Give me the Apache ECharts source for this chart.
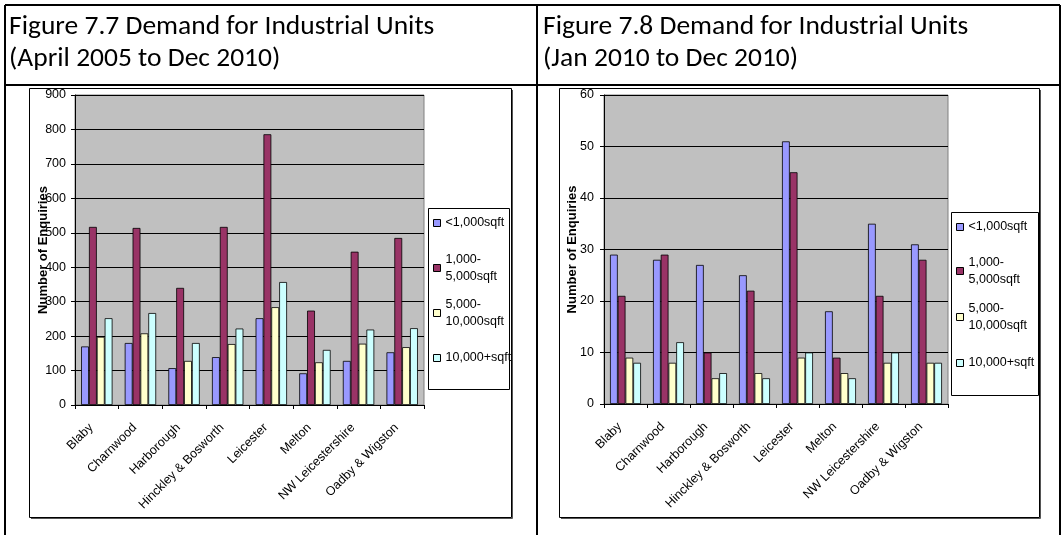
<!DOCTYPE html>
<html>
<head>
<meta charset="utf-8">
<script src="https://cdn.jsdelivr.net/npm/echarts@6/dist/echarts.min.js"></script>
<style>
  html, body { margin: 0; padding: 0; background: #ffffff; }
  #chart { width: 1062px; height: 535px; }
</style>
</head>
<body>
<div id="chart"></div>
<script>
// Districts on the category axis
const districts = ['Blaby', 'Charnwood', 'Harborough', 'Hinckley & Bosworth',
  'Leicester', 'Melton', 'NW Leicestershire', 'Oadby & Wigston'];

// Unit size bands (legend entries)
const sizeBands = ['<1,000sqft', '1,000-\n5,000sqft', '5,000-\n10,000sqft', '10,000+sqft'];

// Figure 7.7: enquiries April 2005 to Dec 2010
const fig77Under1000 = [170, 180, 107, 139, 252, 92, 128, 153];
const fig77From1000 = [517, 514, 340, 517, 786, 274, 445, 485];
const fig77From5000 = [198, 208, 128, 177, 284, 124, 178, 168];
const fig77Over10000 = [252, 267, 180, 222, 357, 160, 219, 223];

// Figure 7.8: enquiries Jan 2010 to Dec 2010
const fig78Under1000 = [29, 28, 27, 25, 51, 18, 35, 31];
const fig78From1000 = [21, 29, 10, 22, 45, 9, 21, 28];
const fig78From5000 = [9, 8, 5, 6, 9, 6, 8, 8];
const fig78Over10000 = [8, 12, 6, 5, 10, 5, 10, 8];

// Value axis ranges
const fig77Axis = { min: 0, max: 900, interval: 100 };
const fig78Axis = { min: 0, max: 60, interval: 10 };

const titles = [
  'Figure 7.7 Demand for Industrial Units\n(April 2005 to Dec 2010)',
  'Figure 7.8 Demand for Industrial Units\n(Jan 2010 to Dec 2010)'
];
const yAxisName = 'Number of Enquiries';

const bandColors = ['#9999FF', '#993366', '#FFFFCC', '#CCFFFF'];
const axisFont = '"Liberation Sans", Arial, sans-serif';
const titleFont = 'Carlito, Calibri, Lato, sans-serif';
const smallSize = 12.5;

const panels = [
  { data: [fig77Under1000, fig77From1000, fig77From5000, fig77Over10000], axis: fig77Axis,
    grid: { left: 75, top: 95, width: 349, height: 310 }, nameGap: 25, labelMargin: 9,
    legendX: 433, legendY: [223, 268, 313, 358],
    frame: [29, 88, 482, 429], legendBox: [428, 208, 81, 181], titleX: 9 },
  { data: [fig78Under1000, fig78From1000, fig78From5000, fig78Over10000], axis: fig78Axis,
    grid: { left: 604, top: 95, width: 344, height: 309 }, nameGap: 25, labelMargin: 10,
    legendX: 956, legendY: [227, 271, 317, 363],
    frame: [559, 88, 480, 429], legendBox: [951, 212, 87, 183], titleX: 543 }
];

const grids = [], xAxes = [], yAxes = [], series = [], legends = [], graphics = [], titleOpts = [];

panels.forEach(function (p, i) {
  grids.push(Object.assign({
    show: true, backgroundColor: '#C0C0C0', borderColor: '#808080', borderWidth: 1
  }, p.grid));

  xAxes.push({
    type: 'category', gridIndex: i, data: districts,
    axisLine: { lineStyle: { color: '#000', width: 1 } },
    axisTick: { show: true, alignWithLabel: false, length: 4, lineStyle: { color: '#000' } },
    axisLabel: { rotate: 45, interval: 0, margin: 15, fontSize: smallSize, fontFamily: axisFont,
      color: '#000', padding: [0, 8, 0, 0] }
  });

  yAxes.push({
    type: 'value', gridIndex: i,
    min: p.axis.min, max: p.axis.max, interval: p.axis.interval,
    name: yAxisName, nameLocation: 'middle', nameRotate: 90, nameGap: p.nameGap,
    nameMoveOverlap: false,
    nameTextStyle: { fontSize: 13, fontWeight: 'bold', fontFamily: axisFont, color: '#000' },
    axisLine: { show: true, lineStyle: { color: '#000', width: 1 } },
    axisTick: { show: true, length: 4, lineStyle: { color: '#000' } },
    axisLabel: { margin: p.labelMargin, fontSize: smallSize, fontFamily: axisFont, color: '#000' },
    splitLine: { show: true, lineStyle: { color: '#000', width: 1 } }
  });

  p.data.forEach(function (values, j) {
    series.push({
      type: 'bar', name: sizeBands[j], xAxisIndex: i, yAxisIndex: i,
      data: values, barGap: '0%', barCategoryGap: '28%',
      itemStyle: { color: bandColors[j], borderColor: '#000', borderWidth: 0.8 },
      emphasis: { disabled: true }, animation: false
    });
  });

  sizeBands.forEach(function (band, j) {
    const twoLines = band.indexOf('\n') >= 0;
    legends.push({
      data: [band], orient: 'vertical', selectedMode: false,
      left: p.legendX, top: p.legendY[j] - (twoLines ? 25.5 : 8.5),
      padding: 0, itemWidth: 7, itemHeight: 7, itemGap: 0, icon: 'rect',
      itemStyle: { borderColor: '#000', borderWidth: 1 },
      textStyle: { fontSize: smallSize, fontFamily: axisFont, color: '#000', lineHeight: 17,
        padding: twoLines ? [17, 0, 0, 0] : 0 }
    });
  });

  // outer chart frame and legend frame
  graphics.push({ type: 'rect', silent: true, z: 1,
    shape: { x: p.frame[0] + 0.5, y: p.frame[1] + 0.5, width: p.frame[2], height: p.frame[3] },
    style: { fill: 'none', stroke: '#000', lineWidth: 1 } });
  graphics.push({ type: 'polyline', silent: true, z: 1,
    shape: { points: [[p.frame[0] + 2, p.frame[1] + p.frame[3] + 1.5],
      [p.frame[0] + p.frame[2] + 1.5, p.frame[1] + p.frame[3] + 1.5],
      [p.frame[0] + p.frame[2] + 1.5, p.frame[1] + 2]] },
    style: { fill: 'none', stroke: '#555', lineWidth: 1 } });
  graphics.push({ type: 'rect', silent: true, z: 1,
    shape: { x: p.legendBox[0] + 0.5, y: p.legendBox[1] + 0.5, width: p.legendBox[2], height: p.legendBox[3] },
    style: { fill: '#fff', stroke: '#000', lineWidth: 1 } });

  titleOpts.push({
    text: titles[i], left: p.titleX, top: 11, padding: 0,
    textStyle: { fontSize: 27.5, fontWeight: 'normal', fontFamily: titleFont, color: '#000', lineHeight: 32 }
  });
});

// table rules around the two figure cells
const rules = [
  [[5, 5], [1060, 5]],
  [[5, 85], [1060, 85]],
  [[5, 5], [5, 535]],
  [[537, 5], [537, 535]],
  [[1060, 5], [1060, 535]]
];
rules.forEach(function (r) {
  graphics.push({ type: 'line', silent: true, z: 1,
    shape: { x1: r[0][0], y1: r[0][1], x2: r[1][0], y2: r[1][1] },
    style: { stroke: '#000', lineWidth: 2 } });
});

const chart = echarts.init(document.getElementById('chart'), null, { renderer: 'canvas' });
chart.setOption({
  animation: false,
  backgroundColor: '#fff',
  title: titleOpts,
  grid: grids,
  xAxis: xAxes,
  yAxis: yAxes,
  legend: legends,
  series: series,
  graphic: graphics
});
</script>
</body>
</html>
